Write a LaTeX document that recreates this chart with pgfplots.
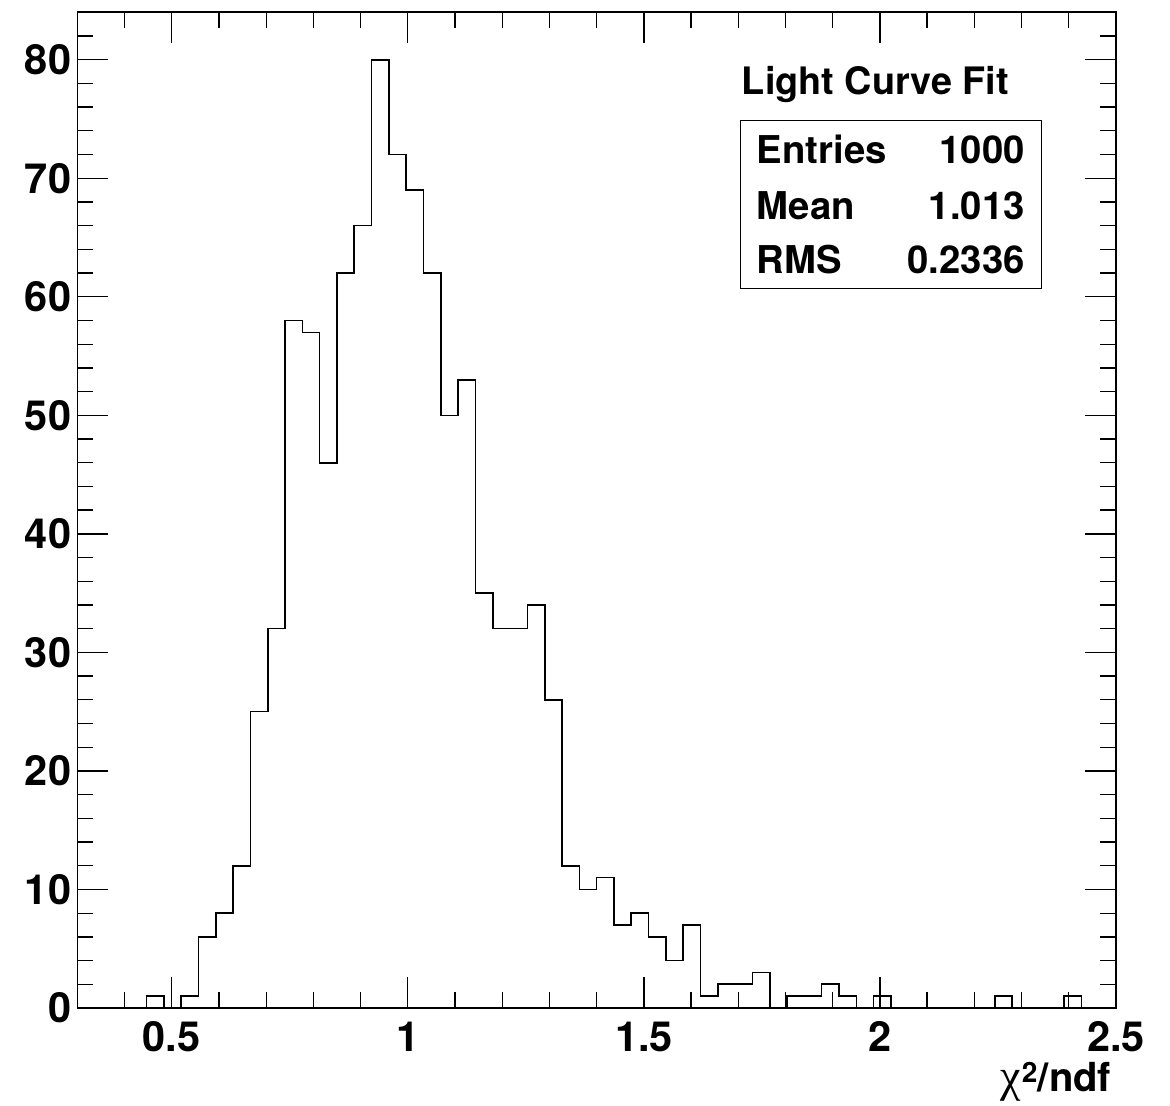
\documentclass[border=0pt]{standalone}
\usepackage{fontspec}
\setmainfont{TeX Gyre Heros}
\newfontfamily\greekfont{Liberation Serif}
\usepackage{pgfplots}
\pgfplotsset{compat=1.18}
\begin{document}
\begin{tikzpicture}[x=1bp,y=1bp]
\useasboundingbox (0,0) rectangle (1170,1106);
\begin{axis}[
  at={(77.3bp,98bp)}, anchor=south west,
  scale only axis, width=1038.7bp, height=995.7bp,
  xmin=0.3, xmax=2.5, ymin=0, ymax=84,
  xtick={0.5,1,1.5,2,2.5},
  minor xtick={0.4,0.6,0.7,0.8,0.9,1.1,1.2,1.3,1.4,1.6,1.7,1.8,1.9,2.1,2.2,2.3,2.4},
  ytick={0,10,20,30,40,50,60,70,80},
  minor ytick={2,4,6,8,12,14,16,18,22,24,26,28,32,34,36,38,42,44,46,48,52,54,56,58,62,64,66,68,72,74,76,78,82},
  tick align=inside,
  major tick length=31bp, minor tick length=15.5bp,
  every tick/.style={black, line width=1.3bp},
  axis line style={line width=1.6bp},
  /pgf/number format/assume math mode=true,
  tick label style={font=\fontsize{41.5bp}{49bp}\selectfont\bfseries},
  yticklabel style={inner sep=0pt, anchor=east, xshift=-6bp},
  xticklabel style={inner sep=0pt, anchor=north, yshift=-13.5bp},
  xlabel={{\greekfont\mdseries\fontsize{46bp}{50bp}\selectfont χ}\kern1bp\textsuperscript{2}/ndf},
  xlabel style={at={(axis description cs:1,0)}, anchor=base east, inner sep=0pt,
    yshift=-83bp, xshift=-4.5bp, font=\fontsize{40bp}{46bp}\selectfont\bfseries},
]
\addplot[const plot, black, line width=1.6bp] coordinates {
(0.3,0) (0.33667,0) (0.37333,0) (0.41,0) (0.44667,1) (0.48333,0) (0.52,1) (0.55667,6)
(0.59333,8) (0.63,12) (0.66667,25) (0.70333,32) (0.74,58) (0.77667,57) (0.81333,46)
(0.85,62) (0.88667,66) (0.92333,80) (0.96,72) (0.99667,69) (1.03333,62) (1.07,50)
(1.10667,53) (1.14333,35) (1.18,32) (1.21667,32) (1.25333,34) (1.29,26) (1.32667,12)
(1.36333,10) (1.4,11) (1.43667,7) (1.47333,8) (1.51,6) (1.54667,4) (1.58333,7)
(1.62,1) (1.65667,2) (1.69333,2) (1.73,3) (1.76667,0) (1.80333,1) (1.84,1)
(1.87667,2) (1.91333,1) (1.95,0) (1.98667,1) (2.02333,0) (2.06,0) (2.09667,0)
(2.13333,0) (2.17,0) (2.20667,0) (2.24333,1) (2.28,0) (2.31667,0) (2.35333,0)
(2.39,1) (2.42667,0) (2.46333,0) (2.5,0)
};
\end{axis}
\node[anchor=base west, inner sep=0pt, font=\fontsize{37.8bp}{44bp}\selectfont\bfseries] at (741.7,1011) {Light Curve Fit};
\draw[line width=1.3bp] (740.7,817.3) rectangle (1041.7,985.3);
\begin{scope}[every node/.style={inner sep=0pt, font=\fontsize{38.3bp}{44bp}\selectfont\bfseries}]
\node[anchor=base west] at (756.7,942.7) {Entries};
\node[anchor=base east] at (1025,942.7) {1000};
\node[anchor=base west] at (756.7,886.7) {Mean};
\node[anchor=base east] at (1025,886.7) {1.013};
\node[anchor=base west] at (756.7,832.7) {RMS};
\node[anchor=base east] at (1025,832.7) {0.2336};
\end{scope}
\end{tikzpicture}
\end{document}
